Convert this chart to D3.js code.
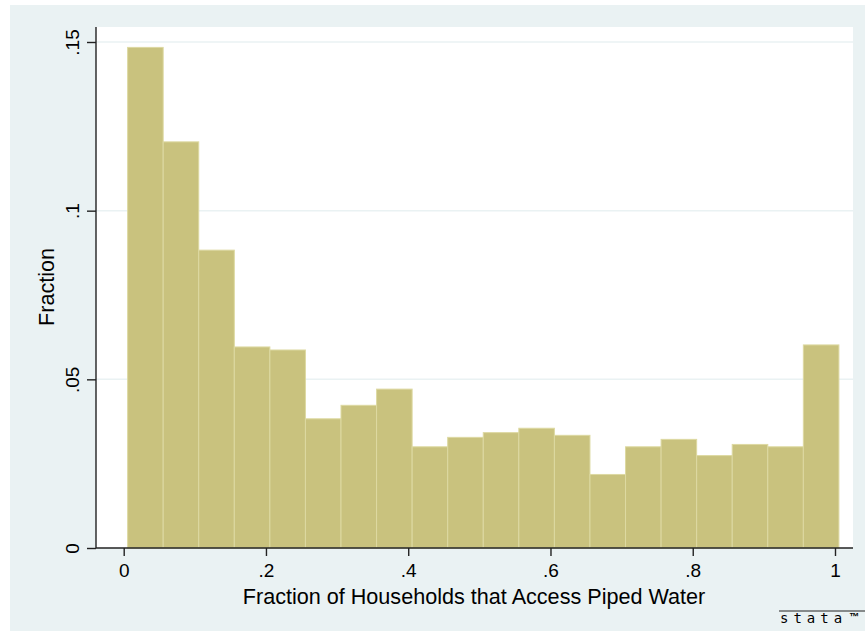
<!DOCTYPE html>
<html>
<head>
<meta charset="utf-8">
<script src="https://cdn.jsdelivr.net/npm/d3@7"></script>
<style>
  body { margin: 0; background: #ffffff; }
  svg { display: block; font-family: "Liberation Sans", Arial, sans-serif; }
</style>
</head>
<body>
<div id="chart"></div>
<script>
// histogram data: 20 bins of width .05
const binStart = 0.0055;
const binWidth = 0.05;
const fractions = [0.1484, 0.1204, 0.0883, 0.0596, 0.0587, 0.0383, 0.0423, 0.0471, 0.0300, 0.0328,
                   0.0342, 0.0355, 0.0334, 0.0218, 0.0300, 0.0322, 0.0274, 0.0307, 0.0300, 0.0602];
const xTicks = [0, 0.2, 0.4, 0.6, 0.8, 1];
const xTickLabels = ["0", ".2", ".4", ".6", ".8", "1"];
const yTicks = [0, 0.05, 0.1, 0.15];
const yTickLabels = ["0", ".05", ".1", ".15"];

const width = 865;
const height = 631;
const plot = {left: 96, right: 853, top: 27, bottom: 548};

var svg = d3.select("#chart").append("svg")
    .attr("width", width).attr("height", height);

// stata background
svg.append("rect").attr("x", 10).attr("y", 5)
    .attr("width", width - 10).attr("height", height - 5)
    .attr("fill", "#eaf2f3");

svg.append("rect")
    .attr("x", plot.left).attr("y", plot.top)
    .attr("width", plot.right - plot.left).attr("height", plot.bottom - plot.top)
    .attr("fill", "#ffffff");

var x = d3.scaleLinear().domain([0, 1]).range([123.7, 835]);
var y = d3.scaleLinear().domain([0, 0.15]).range([548, 42]);

// gridlines
svg.append("g").selectAll("line")
    .data(yTicks.filter(d => d > 0))
    .enter().append("line")
    .attr("x1", plot.left).attr("x2", plot.right)
    .attr("y1", d => y(d)).attr("y2", d => y(d))
    .attr("stroke", "#eaf2f3").attr("stroke-width", 1.5);

// bars
var bins = fractions.map((v, i) => ({x0: binStart + i * binWidth, x1: binStart + (i + 1) * binWidth, v: v}));
svg.append("g").selectAll("rect")
    .data(bins)
    .enter().append("rect")
    .attr("x", d => x(d.x0))
    .attr("y", d => y(d.v))
    .attr("width", d => x(d.x1) - x(d.x0))
    .attr("height", d => y(0) - y(d.v))
    .attr("fill", "#c9c27e")
    .attr("stroke", "#ddd9a2")
    .attr("stroke-width", 1);

// axes
var yAxis = d3.axisLeft(y).tickValues(yTicks)
    .tickFormat((d, i) => yTickLabels[i]).tickSize(9).tickPadding(4);
var gy = svg.append("g").attr("transform", "translate(" + plot.left + ",0)").call(yAxis);
gy.select(".domain").attr("d", "M0," + plot.top + "V" + plot.bottom);

var xAxis = d3.axisBottom(x).tickValues(xTicks)
    .tickFormat((d, i) => xTickLabels[i]).tickSize(8).tickPadding(8);
var gx = svg.append("g").attr("transform", "translate(0," + plot.bottom + ")").call(xAxis);
gx.select(".domain").attr("d", "M" + plot.left + ",0H" + plot.right);

svg.selectAll(".domain, .tick line").attr("stroke", "#222").attr("stroke-width", 1.4);
gx.selectAll(".tick text").attr("font-size", 19).attr("fill", "#000")
    .attr("font-family", "Liberation Sans, Arial, sans-serif");
gy.selectAll(".tick text")
    .attr("font-size", 19).attr("fill", "#000")
    .attr("font-family", "Liberation Sans, Arial, sans-serif")
    .attr("text-anchor", "middle")
    .attr("dy", 0)
    .attr("x", 0).attr("y", 0)
    .attr("transform", "translate(-17,0) rotate(-90)");

// axis titles
svg.append("text")
    .attr("x", 474).attr("y", 604)
    .attr("text-anchor", "middle")
    .attr("font-size", 21.6)
    .text("Fraction of Households that Access Piped Water");

svg.append("text")
    .attr("transform", "translate(54,287) rotate(-90)")
    .attr("text-anchor", "middle")
    .attr("font-size", 21.6)
    .text("Fraction");

// stata logo
svg.append("line").attr("x1", 779).attr("x2", 865).attr("y1", 611).attr("y2", 611)
    .attr("stroke", "#222").attr("stroke-width", 1);
svg.append("text")
    .attr("x", 780).attr("y", 623)
    .attr("font-size", 14).attr("letter-spacing", 5)
    .attr("font-family", "DejaVu Sans Mono, monospace")
    .text("stata");
svg.append("text")
    .attr("x", 849).attr("y", 620)
    .attr("font-size", 10).attr("font-weight", "bold")
    .text("\u2122");
</script>
</body>
</html>
